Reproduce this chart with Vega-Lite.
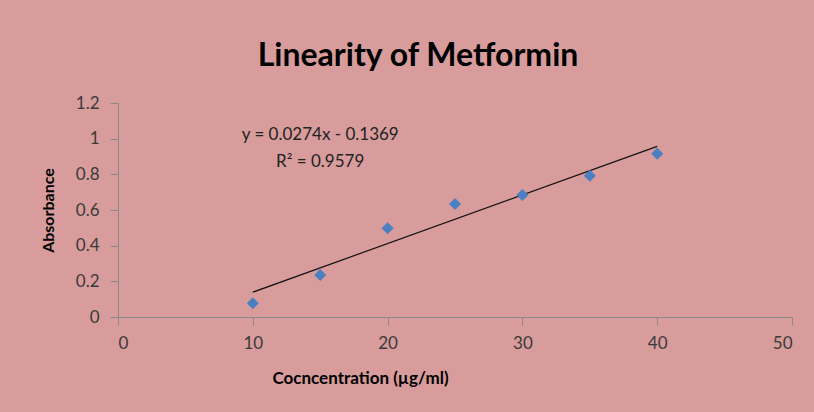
{
  "$schema": "https://vega.github.io/schema/vega-lite/v6.json",
  "width": 674,
  "height": 214,
  "autosize": "none",
  "padding": {"left": 118, "top": 103, "right": 22, "bottom": 95},
  "background": "#d89c9c",
  "title": {
    "text": "Linearity of Metformin",
    "font": "Lato",
    "fontSize": 32,
    "fontWeight": "bold",
    "color": "#000000",
    "frame": "group",
    "baseline": "bottom",
    "offset": 30,
    "dx": -37,
    "dy": 41
  },
  "config": {
    "view": {"stroke": null},
    "axis": {
      "grid": false,
      "labelFont": "Lato",
      "labelFontSize": 17,
      "labelColor": "#3a3a3a",
      "labelOverlap": false,
      "titleFont": "Lato",
      "titleFontWeight": "bold",
      "titleColor": "#000000",
      "domainColor": "#8a8a8a",
      "tickColor": "#8a8a8a",
      "tickSize": 8
    }
  },
  "datasets": {
    "points": [
      {"conc": 10, "abs": 0.077},
      {"conc": 15, "abs": 0.236},
      {"conc": 20, "abs": 0.497},
      {"conc": 25, "abs": 0.634},
      {"conc": 30, "abs": 0.684},
      {"conc": 35, "abs": 0.792},
      {"conc": 40, "abs": 0.916}
    ],
    "labels": [
      {"conc": 15, "abs": 1.02, "text": "y = 0.0274x - 0.1369"},
      {"conc": 15, "abs": 0.869, "text": "R² = 0.9579"}
    ]
  },
  "encoding": {
    "x": {
      "field": "conc",
      "type": "quantitative",
      "scale": {"domain": [0, 50], "nice": false},
      "axis": {
        "values": [0, 10, 20, 30, 40, 50],
        "title": "Cocncentration (µg/ml)",
        "titleFontSize": 17,
        "titleX": 242,
        "titleY": 61,
        "titleBaseline": "middle",
        "labelPadding": 10,
        "labelOverlap": false
      }
    },
    "y": {
      "field": "abs",
      "type": "quantitative",
      "scale": {"domain": [0, 1.2], "nice": false},
      "axis": {
        "values": [0, 0.2, 0.4, 0.6, 0.8, 1, 1.2],
        "tickCount": 7,
        "format": ".1~f",
        "title": "Absorbance",
        "titleFontSize": 16,
        "titleX": -70,
        "titleY": 107,
        "titleBaseline": "middle",
        "labelPadding": 11,
        "labelOverlap": false
      }
    }
  },
  "layer": [
    {
      "data": {"name": "points"},
      "transform": [{"regression": "abs", "on": "conc", "extent": [10, 40]}],
      "mark": {"type": "line", "color": "#111111", "strokeWidth": 1.2}
    },
    {
      "data": {"name": "points"},
      "mark": {"type": "point", "shape": "diamond", "filled": true, "size": 144, "color": "#4a7fc1", "opacity": 1}
    },
    {
      "data": {"name": "labels"},
      "mark": {"type": "text", "font": "Lato", "fontSize": 17, "color": "#222222", "align": "center", "baseline": "middle"},
      "encoding": {
        "text": {"field": "text"}
      }
    }
  ]
}
